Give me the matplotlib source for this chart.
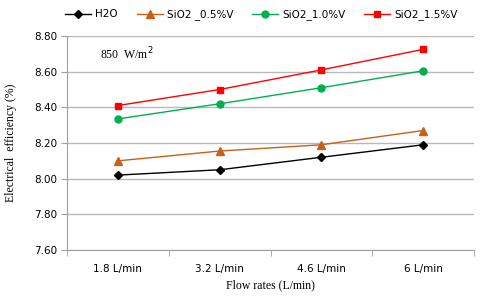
import matplotlib
matplotlib.use("Agg")
import matplotlib.pyplot as plt
from matplotlib.ticker import FixedLocator

categories = ["1.8 L/min", "3.2 L/min", "4.6 L/min", "6 L/min"]
h2o = [8.02, 8.05, 8.12, 8.19]
sio2_05 = [8.10, 8.155, 8.19, 8.27]
sio2_10 = [8.335, 8.42, 8.51, 8.605]
sio2_15 = [8.41, 8.50, 8.61, 8.725]
yticks = [7.60, 7.80, 8.00, 8.20, 8.40, 8.60, 8.80]

fig = plt.figure(figsize=(4.8, 2.97), dpi=100)
ax = fig.add_axes([0.1396, 0.1582, 0.848, 0.7206])
x = list(range(len(categories)))

ax.plot(x, h2o, color="black", lw=1, marker="D", ms=4, label="H2O")
ax.plot(x, sio2_05, color="#C8601A", lw=1, marker="^", ms=6, label="SiO2 _0.5%V")
ax.plot(x, sio2_10, color="#00B050", lw=1, marker="o", ms=5, label="SiO2_1.0%V")
ax.plot(x, sio2_15, color="#FF0000", lw=1, marker="s", ms=5, label="SiO2_1.5%V")

ax.set_xlim(-0.5, len(categories) - 0.5)
ax.set_ylim(7.60, 8.80)
ax.set_yticks(yticks)
ax.set_yticklabels([f"{v:.2f}" for v in yticks], fontsize=7.5, family="DejaVu Sans")
ax.set_xticks(x)
ax.set_xticklabels(categories, fontsize=7.5, family="DejaVu Sans")
ax.xaxis.set_minor_locator(FixedLocator([i - 0.5 for i in range(len(categories) + 1)]))
ax.tick_params(axis="x", which="major", length=0, pad=10)
ax.tick_params(axis="x", which="minor", length=4, color="#A0A0A0")
ax.tick_params(axis="y", length=4, color="#A0A0A0", pad=3)

ax.grid(axis="y", color="#B8B8B8", lw=1)
ax.set_axisbelow(True)
for s in ["top", "right"]:
    ax.spines[s].set_visible(False)
for s in ["left", "bottom"]:
    ax.spines[s].set_color("#A0A0A0")

ax.set_xlabel("Flow rates (L/min)", fontsize=8.5, family="Liberation Serif", labelpad=4)
ax.set_ylabel("Electrical  efficiency (%)", fontsize=8.5, family="Liberation Serif", labelpad=12)
ax.text(0.08, 0.955, "850  W/m$^2$", transform=ax.transAxes, fontsize=8.5,
        family="Liberation Serif", va="top", ha="left")

fig.legend(loc="upper center", bbox_to_anchor=(0.545, 1.0), ncol=4, frameon=False,
           handlelength=2.5, columnspacing=1.8, handletextpad=0.4,
           prop={"family": "DejaVu Sans", "size": 7.5})

fig.savefig("out.png", dpi=100)
